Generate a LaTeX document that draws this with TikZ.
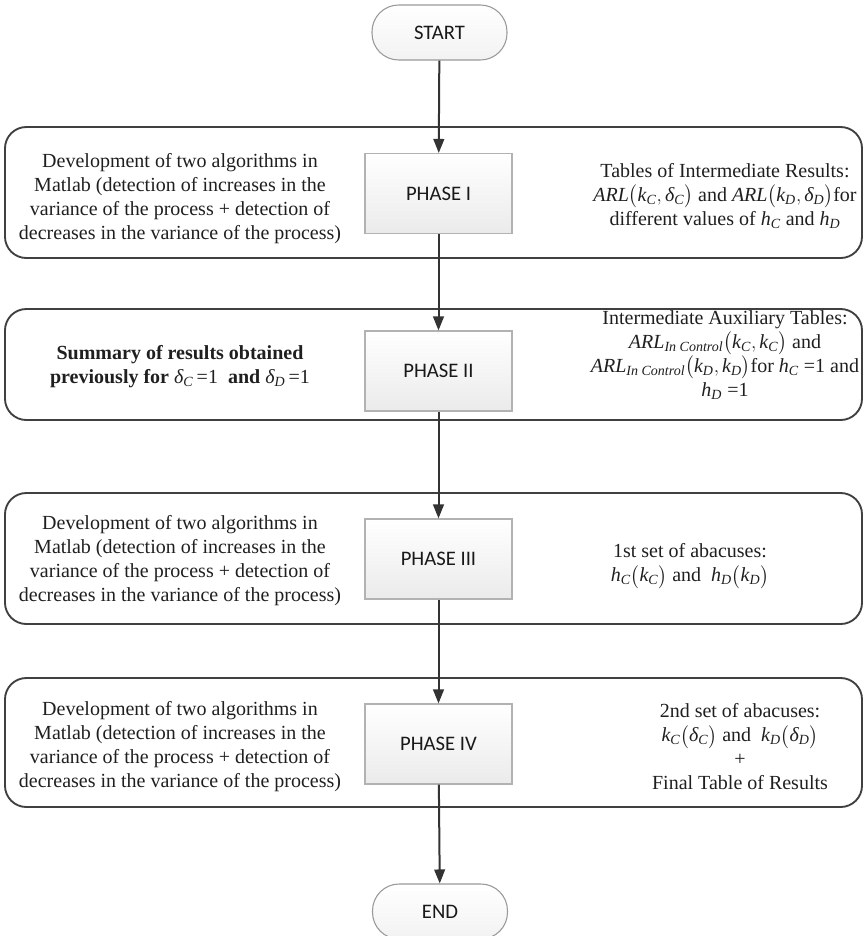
\documentclass[tikz,border=0pt]{standalone}
\usepackage{amsmath}
\usepackage{fontspec}
\setmainfont{Liberation Serif}
\newfontfamily\phasefont{Carlito}
\usetikzlibrary{arrows.meta}

% italic variable names set in the text font, never bold
\newcommand{\vv}[1]{\textit{\mdseries #1}}
\newcommand{\sub}[2]{\vv{#1}_{\vv{#2}}}
\newcommand{\eqone}{{\mdseries\,=1}}

\tikzset{
  stage/.style={draw=black!75, line width=1.4pt, rounded corners=16pt,
    minimum width=642.75pt},
  phasebox/.style={draw=black!30, line width=0.8pt, top color=white,
    bottom color=black!8, minimum width=110.25pt, minimum height=60pt,
    font=\phasefont\fontsize{15.5}{17}\selectfont, text=black!90},
  terminal/.style={draw=black!40, line width=0.8pt, top color=white,
    bottom color=black!5, rounded corners=20pt, minimum width=101.25pt,
    minimum height=41.25pt, font=\phasefont\fontsize{15.5}{17}\selectfont,
    text=black!90},
  desc/.style={align=center, font=\fontsize{15}{18}\selectfont,
    text=black!88, inner sep=0pt},
  flow/.style={draw=black!80, line width=1.5pt,
    -{Triangle[length=10.5pt,width=8pt]}}
}

\begin{document}
\begin{tikzpicture}[x=0.75pt,y=-0.75pt]
\useasboundingbox (0,0) rectangle (865,936);

% stage frames
\node[stage, minimum height=98.25pt] (s1) at (433.5,192.5) {};
\node[stage, minimum height=83.25pt] (s2) at (433.5,364.5) {};
\node[stage, minimum height=98.25pt] (s3) at (433.5,558.5) {};
\node[stage, minimum height=96.75pt] (s4) at (433.5,742.5) {};

% terminals and phases
\node[terminal] (start) at (439.5,32.5) {START};
\node[phasebox] (p1) at (438.5,193.5) {PHASE I};
\node[phasebox] (p2) at (438.5,371) {PHASE II};
\node[phasebox] (p3) at (438.5,559) {PHASE III};
\node[phasebox] (p4) at (438.5,744) {PHASE IV};
\node[terminal] (end) at (440,911.5) {END};

% descriptions
\node[desc] (l1) at (180,199) {Development of two algorithms in\\
  Matlab (detection of increases in the\\
  variance of the process + detection of\\
  decreases in the variance of the process)};
\node[desc] (r1) at (725,196) {Tables of Intermediate Results:\\
  $\vv{ARL}\bigl(\sub{k}{C},\sub{δ}{C}\bigr)$ and
  $\vv{ARL}\bigl(\sub{k}{D},\sub{δ}{D}\bigr)$for\\
  different values of $\sub{h}{C}$ and $\sub{h}{D}$};

\node[desc] (l2) at (180,367) {\bfseries Summary of results obtained\\
  \bfseries previously for $\sub{δ}{C}$\eqone{} \ and $\sub{δ}{D}$\eqone};
\node[desc] (r2) at (725,355) {Intermediate Auxiliary Tables:\\
  $\sub{ARL}{In Control}\bigl(\sub{k}{C},\sub{k}{C}\bigr)$ and\\
  $\sub{ARL}{In Control}\bigl(\sub{k}{D},\sub{k}{D}\bigr)$for $\sub{h}{C}$ =1 and\\
  $\sub{h}{D}$ =1};

\node[desc] (l3) at (180,561) {Development of two algorithms in\\
  Matlab (detection of increases in the\\
  variance of the process + detection of\\
  decreases in the variance of the process)};
\node[desc] (r3) at (690,566) {1st set of abacuses:\\
  $\sub{h}{C}\bigl(\sub{k}{C}\bigr)$ and \ $\sub{h}{D}\bigl(\sub{k}{D}\bigr)$};

\node[desc] (l4) at (180,747) {Development of two algorithms in\\
  Matlab (detection of increases in the\\
  variance of the process + detection of\\
  decreases in the variance of the process)};
\node[desc] (r4) at (740,747) {2nd set of abacuses:\\
  $\sub{k}{C}\bigl(\sub{δ}{C}\bigr)$ and \ $\sub{k}{D}\bigl(\sub{δ}{D}\bigr)$\\
  +\\
  Final Table of Results};

% flow
\draw[flow] (start) -- (p1);
\draw[flow] (p1) -- (p2);
\draw[flow] (p2) -- (p3);
\draw[flow] (p3) -- (p4);
\draw[flow] (p4) -- (end);
\end{tikzpicture}
\end{document}
